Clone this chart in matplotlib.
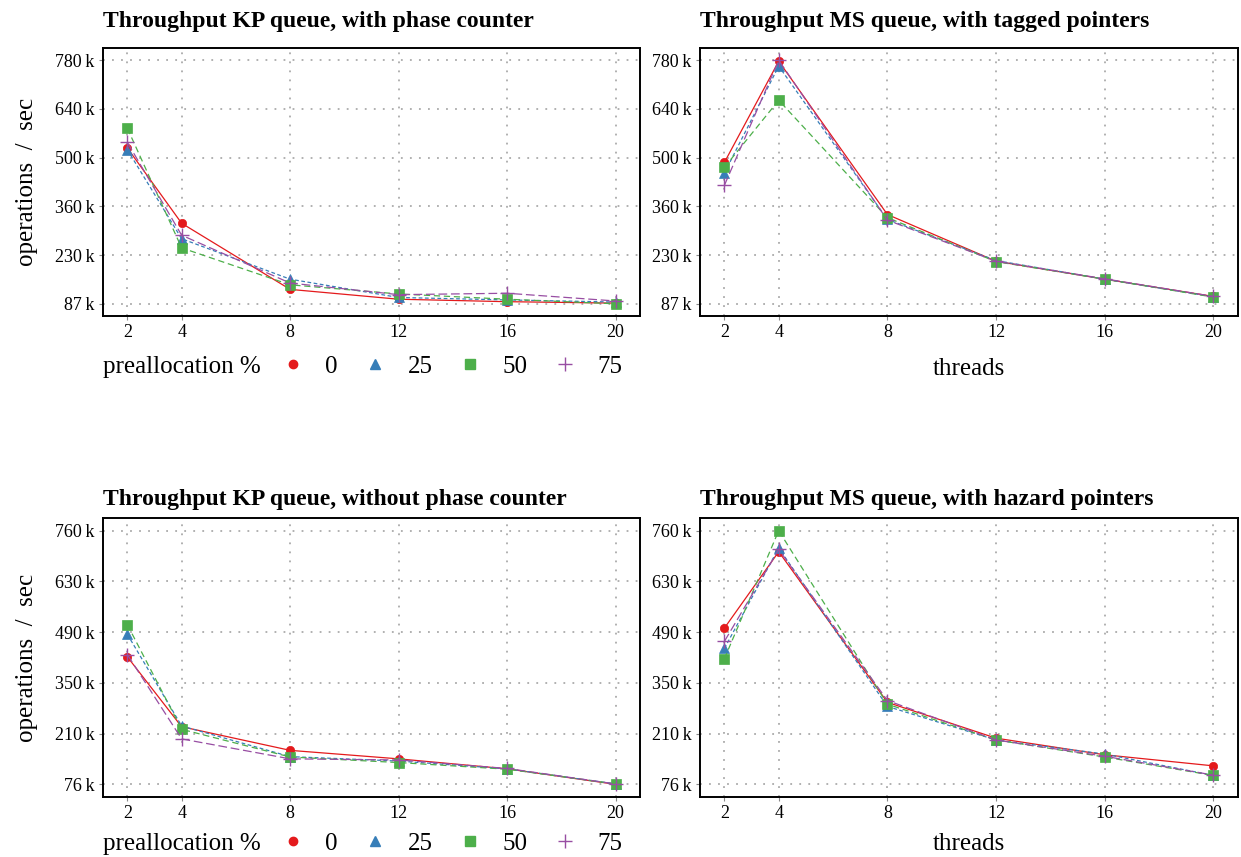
import numpy as np
import matplotlib
matplotlib.use('Agg')
import matplotlib.pyplot as plt
from matplotlib.lines import Line2D

# threads on the x axis, throughput in thousands of operations / sec
threads = [2, 4, 8, 12, 16, 20]
prealloc = ['0', '25', '50', '75']

# one row per preallocation % (0, 25, 50, 75)
kp_phase = [
    [530, 316, 128, 100, 93, 89],
    [525, 272, 157, 105, 98, 92],
    [586, 246, 141, 115, 100, 87],
    [546, 282, 146, 113, 117, 95],
]
ms_tagged = [
    [489, 777, 341, 208, 157, 108],
    [459, 763, 327, 210, 157, 107],
    [475, 666, 332, 207, 157, 106],
    [424, 780, 325, 208, 158, 108],
]
kp_nophase = [
    [421, 232, 168, 145, 118, 76],
    [482, 234, 151, 139, 118, 77],
    [508, 225, 150, 135, 117, 77],
    [427, 199, 145, 142, 119, 77],
]
ms_hazard = [
    [499, 706, 298, 201, 156, 126],
    [444, 716, 287, 196, 158, 100],
    [416, 763, 293, 196, 150, 100],
    [463, 712, 303, 196, 152, 101],
]

ytick_labels_top = ['87', '230', '360', '500', '640', '780']
ytick_labels_bottom = ['76', '210', '350', '490', '630', '760']

titles = ['Throughput KP queue, with phase counter',
          'Throughput MS queue, with tagged pointers',
          'Throughput KP queue, without phase counter',
          'Throughput MS queue, with hazard pointers']

colors = ['#e41a1c', '#377eb8', '#4daf4a', '#984ea3']
markers = ['o', '^', 's', '+']
msizes = [6, 7, 6.5, 10]
dashes = [None, (3, 2), (5, 3), (7, 3)]

plt.rcParams['font.family'] = ['Liberation Serif', 'DejaVu Serif']

fig = plt.figure(figsize=(12.41, 8.57), dpi=100)

axes_pos = [
    [0.083, 0.6313, 0.4327, 0.3127],
    [0.564, 0.6313, 0.4335, 0.3127],
    [0.083, 0.070, 0.4327, 0.3256],
    [0.564, 0.070, 0.4335, 0.3256],
]
panels = [kp_phase, ms_tagged, kp_nophase, ms_hazard]
row_labels = [ytick_labels_top, ytick_labels_top, ytick_labels_bottom, ytick_labels_bottom]
row_data = [kp_phase + ms_tagged, kp_phase + ms_tagged,
            kp_nophase + ms_hazard, kp_nophase + ms_hazard]
below = [-0.19, -0.19, -0.168, -0.168]
title_pad = [15, 15, 9, 9]
xlabel_pad = [12, 12, 8, 8]

for i in range(4):
    ax = fig.add_axes(axes_pos[i])
    data = panels[i]
    for j in range(4):
        line, = ax.plot(threads, data[j], color=colors[j], marker=markers[j],
                        markersize=msizes[j], linewidth=0.9,
                        markeredgewidth=1.0 if markers[j] == '+' else 0.5)
        if dashes[j] is not None:
            line.set_dashes(dashes[j])
    allv = np.array(row_data[i])
    lo, hi = allv.min(), allv.max()
    pad = 0.05 * (hi - lo)
    ax.set_ylim(lo - pad, hi + pad)
    ax.set_yticks(np.linspace(lo, hi, 6))
    ax.set_yticklabels([s + '\u2009k' for s in row_labels[i]])
    ax.set_xticks(threads)
    ax.set_xlim(2 - 0.9, 20 + 0.9)
    ax.grid(True, color='#aaaaaa', linestyle=(0, (1, 4)), linewidth=1.3)
    ax.tick_params(axis='both', labelsize=13, length=3, width=0.8,
                   color='#888888', pad=3)
    for sp in ax.spines.values():
        sp.set_linewidth(1.4)
    ax.set_title(titles[i], loc='left', fontsize=17, fontweight='bold', pad=title_pad[i])
    if i % 2 == 0:
        ax.set_ylabel('operations  /  sec', fontsize=18, labelpad=12)
        ax.text(0.0, below[i], 'preallocation %', transform=ax.transAxes,
                fontsize=18, ha='left', va='center')
        handles = [Line2D([], [], color=colors[j], marker=markers[j], linestyle='none',
                          markersize=msizes[j], markeredgewidth=1.0)
                   for j in range(4)]
        ax.legend(handles, prealloc, loc='center left', bbox_to_anchor=(0.33, below[i]),
                  ncol=4, frameon=False, fontsize=18, handlelength=1.0,
                  handletextpad=0.8, columnspacing=1.0, borderaxespad=0, borderpad=0)
    else:
        ax.set_xlabel('threads', fontsize=18, labelpad=xlabel_pad[i])

fig.savefig('out.png', dpi=100)
